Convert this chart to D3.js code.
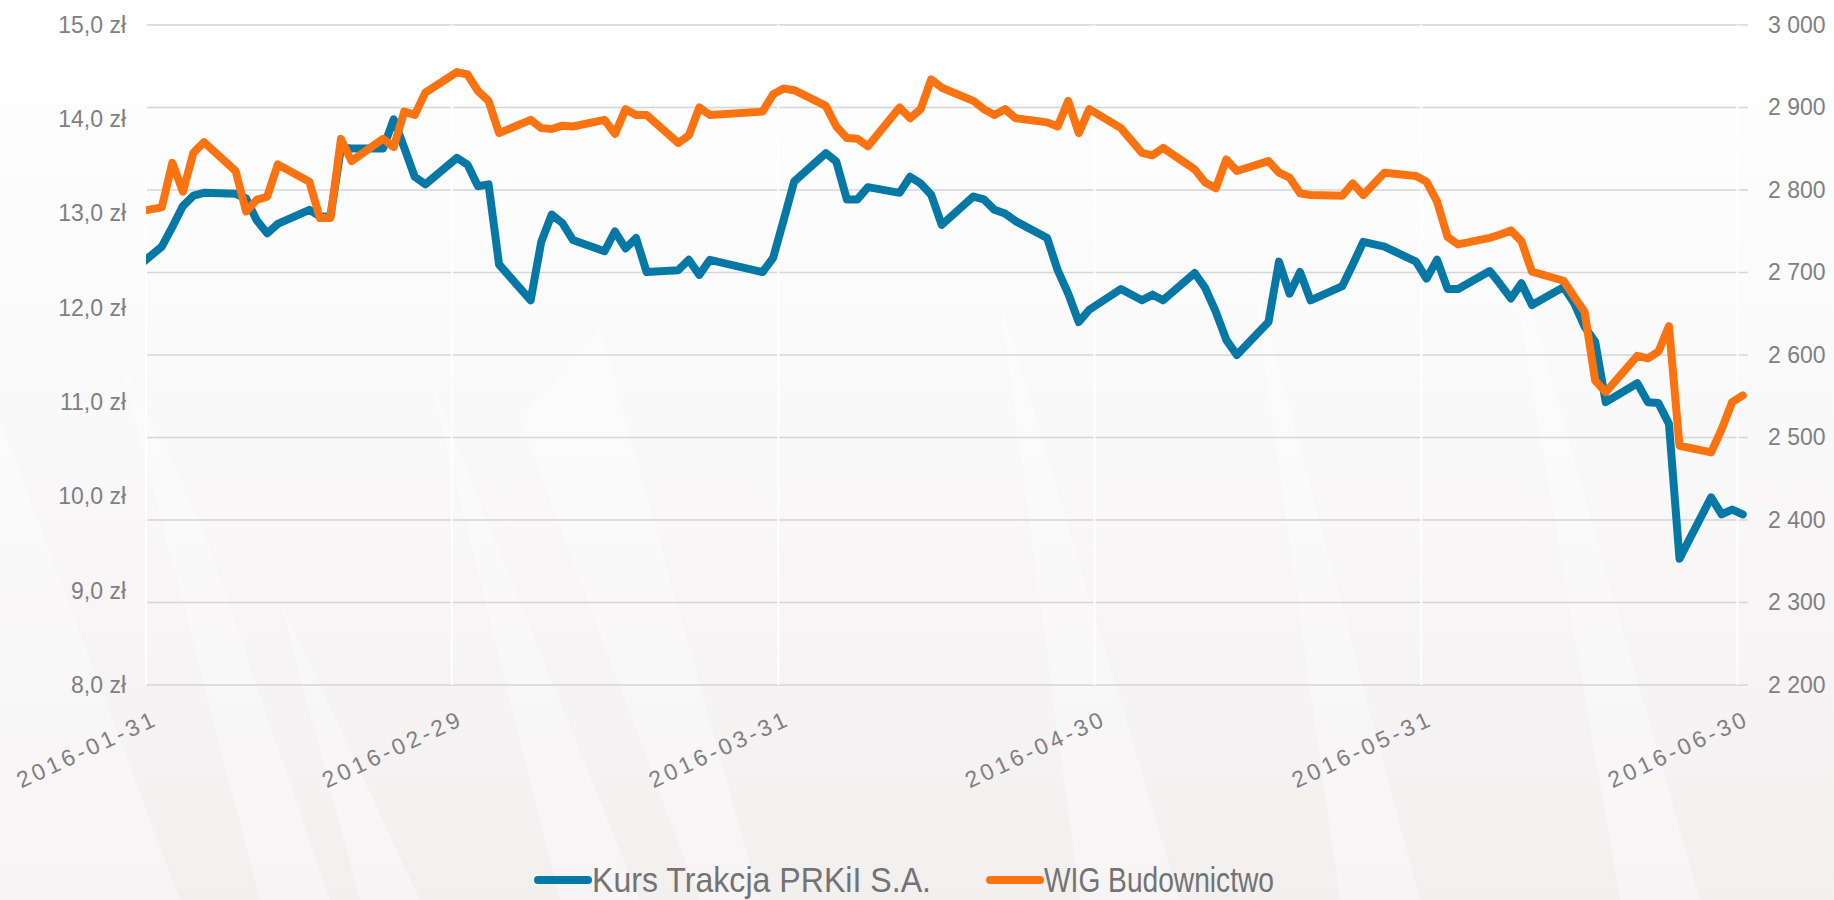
<!DOCTYPE html>
<html lang="pl">
<head>
<meta charset="UTF-8">
<title>Kurs Trakcja PRKiI S.A. / WIG Budownictwo</title>
<script src="https://d3js.org/d3.v7.min.js"></script>
<style>
  body { margin: 0; background: #fff; }
  svg { display: block; }
  text { font-family: "Liberation Sans", Arial, sans-serif; }
</style>
</head>
<body>
<svg width="1834" height="900"></svg>
<script>
// notowania dzienne (sesje GPW), 29.01 jest poza lewą krawędzią wykresu
const dates = [
  "2016-01-29",
  "2016-02-01","2016-02-02","2016-02-03","2016-02-04","2016-02-05",
  "2016-02-08","2016-02-09","2016-02-10","2016-02-11","2016-02-12",
  "2016-02-15","2016-02-16","2016-02-17","2016-02-18","2016-02-19",
  "2016-02-22","2016-02-23","2016-02-24","2016-02-25","2016-02-26",
  "2016-02-29","2016-03-01","2016-03-02","2016-03-03","2016-03-04",
  "2016-03-07","2016-03-08","2016-03-09","2016-03-10","2016-03-11",
  "2016-03-14","2016-03-15","2016-03-16","2016-03-17","2016-03-18",
  "2016-03-21","2016-03-22","2016-03-23","2016-03-24",
  "2016-03-29","2016-03-30","2016-03-31","2016-04-01",
  "2016-04-04","2016-04-05","2016-04-06","2016-04-07","2016-04-08",
  "2016-04-11","2016-04-12","2016-04-13","2016-04-14","2016-04-15",
  "2016-04-18","2016-04-19","2016-04-20","2016-04-21","2016-04-22",
  "2016-04-25","2016-04-26","2016-04-27","2016-04-28","2016-04-29",
  "2016-05-02","2016-05-04","2016-05-05","2016-05-06",
  "2016-05-09","2016-05-10","2016-05-11","2016-05-12","2016-05-13",
  "2016-05-16","2016-05-17","2016-05-18","2016-05-19","2016-05-20",
  "2016-05-23","2016-05-24","2016-05-25","2016-05-27",
  "2016-05-30","2016-05-31","2016-06-01","2016-06-02","2016-06-03",
  "2016-06-06","2016-06-07","2016-06-08","2016-06-09","2016-06-10",
  "2016-06-13","2016-06-14","2016-06-15","2016-06-16","2016-06-17",
  "2016-06-20","2016-06-21","2016-06-22","2016-06-23","2016-06-24",
  "2016-06-27","2016-06-28","2016-06-29","2016-06-30"
];

const kurs = [
  12.37,
  12.65, 12.86, 13.08, 13.19, 13.22,
  13.21, 13.16, 12.93, 12.79, 12.89,
  13.04, 12.97, 12.97, 13.70, 13.69,
  13.69, 14.00, 13.70, 13.39, 13.31,
  13.59, 13.52, 13.29, 13.31, 12.46,
  12.08, 12.70, 12.99, 12.90, 12.72,
  12.60, 12.81, 12.63, 12.74, 12.38,
  12.40, 12.51, 12.35, 12.51,
  12.38, 12.53, 12.93, 13.34,
  13.64, 13.55, 13.15, 13.15, 13.28,
  13.22, 13.39, 13.32, 13.20, 12.88,
  13.18, 13.15, 13.04, 13.00, 12.92,
  12.74, 12.40, 12.15, 11.85, 11.98,
  12.20, 12.08, 12.14, 12.08,
  12.37, 12.21, 11.96, 11.66, 11.50,
  11.85, 12.49, 12.15, 12.38, 12.08,
  12.23, 12.46, 12.70, 12.65,
  12.49, 12.31, 12.51, 12.20, 12.20,
  12.39, 12.25, 12.10, 12.26, 12.03,
  12.22, 12.05, 11.80, 11.64, 11.00,
  11.20, 11.00, 10.99, 10.77, 9.34,
  9.99, 9.81, 9.86, 9.81
];

const wig = [
  2772,
  2779, 2833, 2798, 2845, 2858,
  2823, 2774, 2788, 2792, 2831,
  2810, 2766, 2766, 2862, 2835,
  2862, 2852, 2895, 2891, 2918,
  2943, 2940, 2920, 2908, 2869,
  2885, 2875, 2874, 2878, 2877,
  2885, 2868, 2898, 2891, 2891,
  2857, 2866, 2900, 2891,
  2895, 2916, 2923, 2921,
  2902, 2877, 2863, 2862, 2853,
  2900, 2887, 2898, 2934, 2924,
  2908, 2898, 2891, 2898, 2887,
  2882, 2877, 2908, 2869, 2898,
  2875, 2845, 2842, 2851,
  2825, 2809, 2802, 2837, 2823,
  2835, 2821, 2815, 2796, 2794,
  2793, 2808, 2794, 2821,
  2817, 2810, 2786, 2743, 2734,
  2742, 2746, 2751, 2738, 2701,
  2690, 2671, 2652, 2569, 2555,
  2599, 2596, 2604, 2635, 2490,
  2482, 2510, 2543, 2551
];

const leftTicks = [8, 9, 10, 11, 12, 13, 14, 15];
const rightTicks = [2200, 2300, 2400, 2500, 2600, 2700, 2800, 2900, 3000];
const monthTicks = ["2016-01-31", "2016-02-29", "2016-03-31", "2016-04-30", "2016-05-31", "2016-06-30"];
const seriesNames = ["Kurs Trakcja PRKiI S.A.", "WIG Budownictwo"];
const seriesColors = ["#0678a6", "#fa7310"];

const svg = d3.select("svg");
const W = 1834, H = 900;
const pL = 146, pR = 1748, pT = 25, pB = 685;

const parse = d3.utcParse("%Y-%m-%d");
const x = d3.scaleUtc()
  .domain([parse("2016-01-31"), parse("2016-07-01")])
  .range([pL, pR]);
const yL = d3.scaleLinear().domain([8, 15]).range([pB, pT]);
const yR = d3.scaleLinear().domain([2200, 3000]).range([pB, pT]);

const pl = d3.formatLocale({ decimal: ",", thousands: " ", grouping: [3], currency: ["", " zł"] });
const fmtL = d => pl.format(".1f")(d) + " zł";
const fmtR = pl.format(",d");

// tło - blady motyw konstrukcji stalowej
const defs = svg.append("defs");
const bg = svg.append("g");
bg.append("rect").attr("width", W).attr("height", H).attr("fill", "#fff");
const grad = defs.append("linearGradient")
  .attr("id", "fade").attr("x1", 0).attr("y1", 0).attr("x2", 0).attr("y2", 1);
grad.append("stop").attr("offset", "0").attr("stop-color", "#f3f0f0").attr("stop-opacity", 0);
grad.append("stop").attr("offset", "0.5").attr("stop-color", "#f3f0f0").attr("stop-opacity", 0.45);
grad.append("stop").attr("offset", "1").attr("stop-color", "#f2efef").attr("stop-opacity", 1);
bg.append("rect").attr("width", W).attr("height", H).attr("fill", "url(#fade)");
const shards = [
  [[0,420],[180,900],[0,900]], [[120,360],[260,900],[330,900],[200,520]],
  [[430,380],[560,900],[640,900]], [[600,330],[760,900],[700,900],[520,420]],
  [[1000,300],[1180,900],[1080,900]], [[1250,260],[1420,900],[1340,900]],
  [[1500,200],[1700,900],[1620,900]], [[280,600],[420,900],[360,900]]
];
bg.selectAll("polygon").data(shards).join("polygon")
  .attr("points", d => d.map(p => p.join(",")).join(" "))
  .attr("fill", "#ffffff").attr("opacity", 0.35);

// siatka pozioma (oś prawa)
svg.append("g").selectAll("line").data(rightTicks).join("line")
  .attr("x1", pL).attr("x2", pR)
  .attr("y1", d => yR(d)).attr("y2", d => yR(d))
  .attr("stroke", "#d6d6d6").attr("stroke-width", 1.6);

// pionowe białe linie na końcach miesięcy
svg.append("g").selectAll("line").data(monthTicks).join("line")
  .attr("x1", d => x(parse(d))).attr("x2", d => x(parse(d)))
  .attr("y1", pT).attr("y2", pB)
  .attr("stroke", "#ffffff").attr("stroke-width", 2);

// osie
const axL = svg.append("g").attr("transform", `translate(${pL},0)`)
  .call(d3.axisLeft(yL).tickValues(leftTicks).tickFormat(fmtL).tickSize(0).tickPadding(20));
const axR = svg.append("g").attr("transform", `translate(${pR},0)`)
  .call(d3.axisRight(yR).tickValues(rightTicks).tickFormat(fmtR).tickSize(0).tickPadding(20));
const axX = svg.append("g").attr("transform", `translate(0,${pB})`)
  .call(d3.axisBottom(x).tickValues(monthTicks.map(parse)).tickFormat(d3.utcFormat("%Y-%m-%d")).tickSize(0));
[axL, axR, axX].forEach(a => {
  a.select(".domain").remove();
  a.selectAll("text").attr("fill", "#808080").style("font-family", '"Liberation Sans", Arial, sans-serif');
});
axL.selectAll("text").style("font-size", "23px");
axR.selectAll("text").style("font-size", "23px");
axX.selectAll("text")
  .style("font-size", "23px")
  .style("letter-spacing", "3.5px")
  .attr("text-anchor", "end")
  .attr("x", 13).attr("y", 39).attr("dy", 0)
  .attr("transform", "rotate(-25,13,39)");

// linie serii
defs.append("clipPath").attr("id", "plot")
  .append("rect").attr("x", pL).attr("y", 0).attr("width", W - pL).attr("height", H);
const pts = dates.map((d, i) => ({ t: d3.utcHour.offset(parse(d), 12), k: kurs[i], w: wig[i] }));
const lineK = d3.line().x(d => x(d.t)).y(d => yL(d.k));
const lineW = d3.line().x(d => x(d.t)).y(d => yR(d.w));
const lines = svg.append("g").attr("clip-path", "url(#plot)");
lines.append("path").datum(pts).attr("d", lineK)
  .attr("fill", "none").attr("stroke", seriesColors[0]).attr("stroke-width", 8)
  .attr("stroke-linejoin", "round").attr("stroke-linecap", "round");
lines.append("path").datum(pts).attr("d", lineW)
  .attr("fill", "none").attr("stroke", seriesColors[1]).attr("stroke-width", 8)
  .attr("stroke-linejoin", "round").attr("stroke-linecap", "round");

// legenda
const legX = [534, 986];
const legW = [339, 230];
const leg = svg.append("g").selectAll("g").data(seriesNames).join("g")
  .attr("transform", (d, i) => `translate(${legX[i]},880)`);
leg.append("line").attr("x1", 4).attr("x2", 54)
  .attr("stroke", (d, i) => seriesColors[i]).attr("stroke-width", 8).attr("stroke-linecap", "round");
leg.append("text").attr("x", 58).attr("y", 12)
  .attr("textLength", (d, i) => legW[i]).attr("lengthAdjust", "spacingAndGlyphs")
  .attr("fill", "#737373").style("font-size", "35px")
  .text(d => d);
</script>
</body>
</html>
